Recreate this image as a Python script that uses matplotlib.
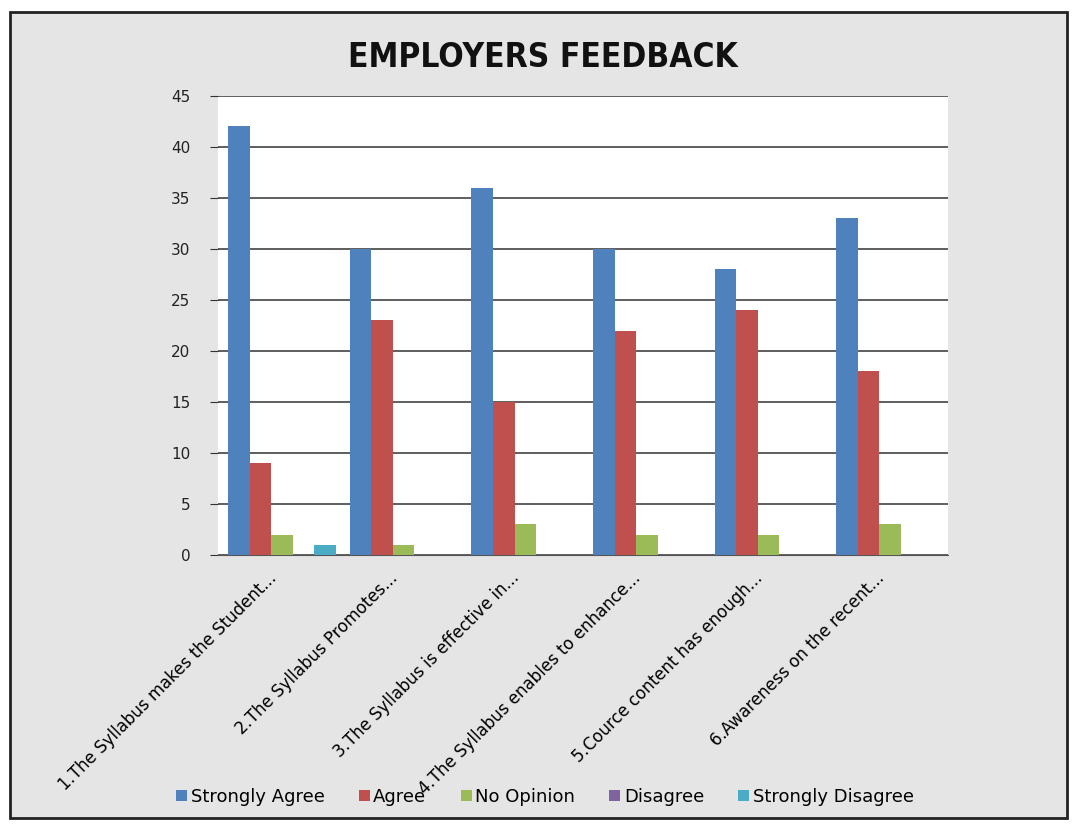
import numpy as np
import matplotlib
matplotlib.use("Agg")
import matplotlib.pyplot as plt
import matplotlib.transforms as mtransforms
from matplotlib.patches import Rectangle

# Survey responses per statement
categories = [
    "1.The Syllabus makes the Student...",
    "2.The Syllabus Promotes...",
    "3.The Syllabus is effective in...",
    "4.The Syllabus enables to enhance...",
    "5.Cource content has enough...",
    "6.Awareness on the recent...",
]
series_names = ["Strongly Agree", "Agree", "No Opinion", "Disagree", "Strongly Disagree"]
strongly_agree = [42, 30, 36, 30, 28, 33]
agree = [9, 23, 15, 22, 24, 18]
no_opinion = [2, 1, 3, 2, 2, 3]
disagree = [0, 0, 0, 0, 0, 0]
strongly_disagree = [1, 0, 0, 0, 0, 0]
y_ticks = [0, 5, 10, 15, 20, 25, 30, 35, 40, 45]

COLORS = ["#4F81BD", "#C0504D", "#9BBB59", "#8064A2", "#4BACC6"]

plt.rcParams["font.family"] = ["DejaVu Sans"]

fig = plt.figure(figsize=(10.75, 8.26), dpi=100)
fig.patch.set_facecolor("white")

# chart frame with light gray fill
frame = Rectangle((0.009, 0.01), 0.984, 0.975, transform=fig.transFigure,
                  facecolor="#e5e5e5", edgecolor="#222222", lw=2.0, zorder=-1)
fig.patches.append(frame)

ax = fig.add_axes([0.203, 0.328, 0.679, 0.556], zorder=2)
ax.set_facecolor("white")

values = [strongly_agree, agree, no_opinion, disagree, strongly_disagree]
x = np.arange(len(categories))
width = 0.177
offsets = (np.arange(len(values)) - 2) * width + 0.024
for vals, name, c, off in zip(values, series_names, COLORS, offsets):
    ax.bar(x + off, vals, width=width, color=c, label=name, zorder=3)

ax.set_xlim(-0.5, len(categories) - 0.5)
ax.set_ylim(0, 45)
ax.set_yticks(y_ticks)
ax.tick_params(axis="y", labelsize=11, length=6, color="#333333", labelcolor="#222222", pad=14)
ax.grid(axis="y", color="#333333", lw=1.1, zorder=1)
for s in ["top", "right", "left"]:
    ax.spines[s].set_visible(False)
ax.spines["bottom"].set_color("#555555")

ax.set_xticks(x)
ax.set_xticklabels(categories, rotation=45, ha="right", rotation_mode="anchor", fontsize=12)
ax.tick_params(axis="x", length=0, pad=10)
shift = mtransforms.ScaledTranslation(-12 / 100, 0, fig.dpi_scale_trans)
for lbl in ax.get_xticklabels():
    lbl.set_transform(lbl.get_transform() + shift)

fig.text(0.505, 0.93, "EMPLOYERS FEEDBACK", ha="center", va="center",
         fontsize=24, fontweight="bold", fontstretch="condensed", color="#111111")

leg = fig.legend(loc="center", bbox_to_anchor=(0.507, 0.035), ncol=5, frameon=False,
                 fontsize=13, handlelength=0.6, handleheight=0.6, handletextpad=0.2,
                 columnspacing=1.9)
leg.set_zorder(5)

fig.savefig("out.png", dpi=100, facecolor=fig.get_facecolor())
